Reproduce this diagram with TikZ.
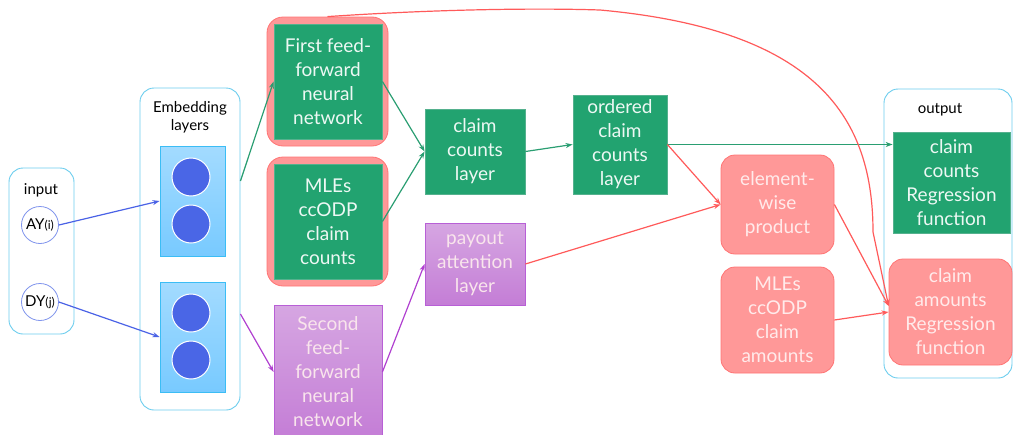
\documentclass[tikz,border=0pt]{standalone}
\usepackage{fontspec}
\setmainfont{Lato}
\usetikzlibrary{arrows.meta}
\definecolor{grn}{HTML}{22A370}
\definecolor{grnline}{HTML}{2A9E72}
\definecolor{rfill}{HTML}{FF9898}
\definecolor{rline}{HTML}{FF7474}
\definecolor{rarrow}{HTML}{FF5A5A}
\definecolor{ptop}{HTML}{D6A6E2}
\definecolor{pbot}{HTML}{C47DD6}
\definecolor{pline}{HTML}{B85FD6}
\definecolor{parrow}{HTML}{B040D0}
\definecolor{btop}{HTML}{A3DBFF}
\definecolor{bbot}{HTML}{78CAFF}
\definecolor{bline}{HTML}{3BBDF5}
\definecolor{frame}{HTML}{6CCDEE}
\definecolor{dot}{HTML}{4A66E6}
\definecolor{barrow}{HTML}{4A62E6}
\tikzset{
  x=1pt, y=-1pt,
  big/.style={font=\fontsize{19}{24}\selectfont, align=center, inner sep=0pt},
  small/.style={font=\fontsize{15}{18}\selectfont, align=center, inner sep=0pt},
  greenbox/.style={big, fill=grn, draw=grnline!80!white, text=white!92!grn, line width=0.8pt},
  redbox/.style={big, fill=rfill, draw=rline, rounded corners=14pt, text=white!92!red, line width=0.8pt},
  purplebox/.style={big, top color=ptop, bottom color=pbot, draw=pline, text=white!90!purple, line width=0.8pt},
  holder/.style={draw=frame, rounded corners=14pt, line width=0.9pt, fill=white},
  redhalo/.style={fill=rfill, draw=rline, rounded corners=16pt, line width=0.8pt},
  embbox/.style={top color=btop, bottom color=bbot, draw=bline, line width=0.8pt},
  unit/.style={circle, fill=dot, draw=white, line width=1pt, minimum size=38pt, inner sep=0pt},
  inp/.style={circle, draw=dot!70!white, fill=white, line width=0.8pt, minimum size=37pt, inner sep=0pt, font=\fontsize{15}{18}\selectfont},
  conn/.style={line width=1.2pt, -{Stealth[length=7pt,width=5pt]}},
  gconn/.style={conn, draw=grnline},
  rconn/.style={conn, draw=rarrow},
  pconn/.style={conn, draw=parrow},
  bconn/.style={conn, draw=barrow},
}
\begin{document}
\begin{tikzpicture}
\useasboundingbox (0,0) rectangle (1014,434);

% containers
\node[holder, minimum width=65pt, minimum height=166pt] (inbox) at (41.5,251) {};
\node[holder, minimum width=100pt, minimum height=322pt] (embframe) at (190,249) {};
\node[holder, minimum width=128pt, minimum height=289pt] (outbox) at (948,233.5) {};

\node[small] (inlabel) at (41,190) {input};
\node[small] (emblabel) at (190,117) {Embedding\\layers};
\node[small] (outlabel) at (940,110) {output};

% inputs
\node[inp] (ay) at (40,225) {AY{\fontsize{12}{14}\selectfont(i)}};
\node[inp] (dy) at (40,302) {DY{\fontsize{12}{14}\selectfont(j)}};

% embedding blocks
\node[embbox, minimum width=65pt, minimum height=110pt] (emb1) at (192.5,201) {};
\node[embbox, minimum width=65pt, minimum height=110pt] (emb2) at (192.5,337) {};
\node[unit] (u11) at (191,177) {};
\node[unit] (u12) at (191,224) {};
\node[unit] (u21) at (191,313) {};
\node[unit] (u22) at (191,360) {};

% red halos behind the count branch
\node[redhalo, minimum width=121pt, minimum height=129pt] (ff1o) at (327.5,81.5) {};
\node[redhalo, minimum width=121pt, minimum height=129pt] (mle1o) at (327.5,221.5) {};

\node[greenbox, minimum width=108pt, minimum height=115pt] (ff1) at (328,81.5) {First feed-\\forward\\neural\\network};
\node[greenbox, minimum width=108pt, minimum height=115pt] (mle1) at (328,221.5) {MLEs\\ccODP\\claim\\counts};
\node[purplebox, minimum width=108pt, minimum height=134pt] (ff2) at (328,372) {Second\\feed-\\forward\\neural\\network};

\node[greenbox, minimum width=100pt, minimum height=85pt] (ccl) at (475,151.5) {claim\\counts\\layer};
\node[purplebox, minimum width=100pt, minimum height=82pt] (pal) at (475,264) {payout\\attention\\layer};
\node[greenbox, minimum width=94pt, minimum height=99pt] (occl) at (620,144.5) {ordered\\claim\\counts\\layer};

\node[redbox, minimum width=113pt, minimum height=99pt] (ewp) at (777.5,204.5) {element-\\wise\\product};
\node[redbox, minimum width=113pt, minimum height=106pt] (mlea) at (777.5,320) {MLEs\\ccODP\\claim\\amounts};

\node[greenbox, minimum width=117pt, minimum height=101pt] (ccr) at (951.5,182.5) {claim\\counts\\Regression\\function};
\node[redbox, minimum width=123pt, minimum height=106pt] (car) at (950.5,312) {claim\\amounts\\Regression\\function};

% connectors
\coordinate (carin) at ([yshift=6pt]car.west);
\coordinate (ffbend) at (873,232);

\draw[bconn] (ay.east) -- (emb1.west);
\draw[bconn] (dy.east) -- (emb2.west);
\draw[gconn] (embframe.east |- 0,181) -- (ff1.west);
\draw[pconn] (embframe.east |- 0,314) -- (ff2.west);
\draw[gconn] (ff1.east) -- (ccl.west);
\draw[gconn] (mle1.east) -- (ccl.west);
\draw[pconn] (ff2.east) -- (pal.west);
\draw[gconn] (ccl.east) -- (occl.west);
\draw[gconn] (occl.east) -- (ccr.west |- occl.east);
\draw[rconn] (occl.east) -- (ewp.west);
\draw[rconn] (pal.east) -- (ewp.west);
\draw[rconn] (ewp.east) -- (carin);
\draw[rconn] (mlea.east) -- (car.west);
\draw[rconn] (ff1o.north) .. controls (440,9) and (540,8) .. (600,10)
  .. controls (820,30) and (873,120) .. (ffbend) -- (carin);
\end{tikzpicture}
\end{document}
